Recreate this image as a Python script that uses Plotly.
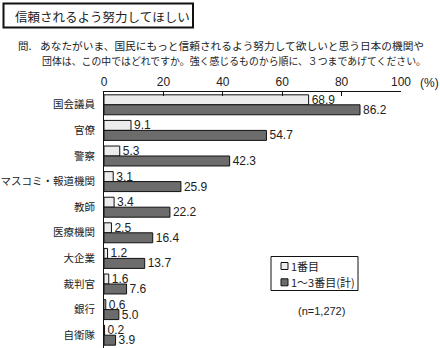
import plotly.graph_objects as go

categories = ["国会議員", "官僚", "警察", "マスコミ・報道機関", "教師", "医療機関", "大企業", "裁判官", "銀行", "自衛隊"]
first = [68.9, 9.1, 5.3, 3.1, 3.4, 2.5, 1.2, 1.6, 0.6, 0.2]
total = [86.2, 54.7, 42.3, 25.9, 22.2, 16.4, 13.7, 7.6, 5.0, 3.9]
series_names = ["1番目", "1～3番目(計)"]
series_colors = ["#ececec", "#6c6c6c"]
x_ticks = [0, 20, 40, 60, 80, 100]

W, H = 440, 348
L, R, T, B = 104, 39, 92, 0
PW, PH = W - L - R, H - T - B

def px(x):
    return (x - L) / PW

def py(y):
    return (H - B - y) / PH

JP = "Noto Sans CJK JP"
NUM = "Liberation Sans, Arial"
TXT = "#222222"
EDGE = "#111111"

fig = go.Figure()
for name, vals, col in zip(series_names, [first, total], series_colors):
    fig.add_trace(go.Bar(
        y=categories, x=vals, name=name, orientation="h",
        marker=dict(color=col, line=dict(color=EDGE, width=1)),
        texttemplate="%{x:.1f}", textposition="outside", constraintext="none",
        textfont=dict(family=NUM, size=12, color=TXT), cliponaxis=False,
    ))

fig.update_layout(
    width=W, height=H,
    margin=dict(l=L, r=R, t=T, b=B, pad=0),
    paper_bgcolor="white", plot_bgcolor="white",
    barmode="group", bargap=0.22, bargroupgap=0,
    showlegend=False,
    xaxis=dict(
        side="top", range=[0, 100], tickvals=x_ticks,
        ticks="inside", ticklen=4, tickcolor=EDGE,
        showline=True, linecolor=EDGE, linewidth=1,
        showgrid=False, zeroline=False,
        tickfont=dict(family=NUM, size=12, color=TXT),
    ),
    yaxis=dict(
        autorange="reversed", showline=True, linecolor=EDGE, linewidth=1,
        showgrid=False, zeroline=False, ticks="", ticklabelstandoff=6,
        tickfont=dict(family=JP, size=10.5, color=TXT),
    ),
    font=dict(family=JP),
)

def paper_rect(x0, y0, x1, y1, fill, lw):
    fig.add_shape(type="rect", xref="paper", yref="paper",
                  x0=px(x0), x1=px(x1), y0=py(y1), y1=py(y0),
                  line=dict(color=EDGE, width=lw), fillcolor=fill)

def paper_text(text, x, y, size, family=JP, anchor="left"):
    fig.add_annotation(text=text, x=px(x), y=py(y), xref="paper", yref="paper",
                       xanchor=anchor, yanchor="middle", showarrow=False,
                       borderpad=0,
                       font=dict(family=family, size=size, color=TXT))

# title box
paper_rect(3.5, 3.5, 193, 27.5, "white", 2)
paper_text("信頼されるよう努力してほしい", 14, 16, 12.5)

# question
q1 = "あなたがいま、国民にもっと信頼されるよう努力して欲しいと思う日本の機関や"
q2 = "団体は、この中ではどれですか。強く感じるものから順に、３つまであげてください。"
paper_text("問.", 17, 45.5, 10.5)
paper_text(q1, 39, 45.5, 10.7)
paper_text(q2, 41, 60.5, 9.9)

paper_text("(%)", 419, 82.5, 12, NUM)

# legend
paper_rect(271, 256.5, 358, 290.5, "white", 1)
for i, (name, col) in enumerate(zip(series_names, series_colors)):
    cy = 266 + i * 16.3
    paper_rect(281, cy - 3.5, 288, cy + 3.5, col, 1)
    paper_text(name, 289.5, cy, 11)

paper_text("(n=1,272)", 321.5, 310.5, 11, NUM, "center")

fig.write_html("out.html")
